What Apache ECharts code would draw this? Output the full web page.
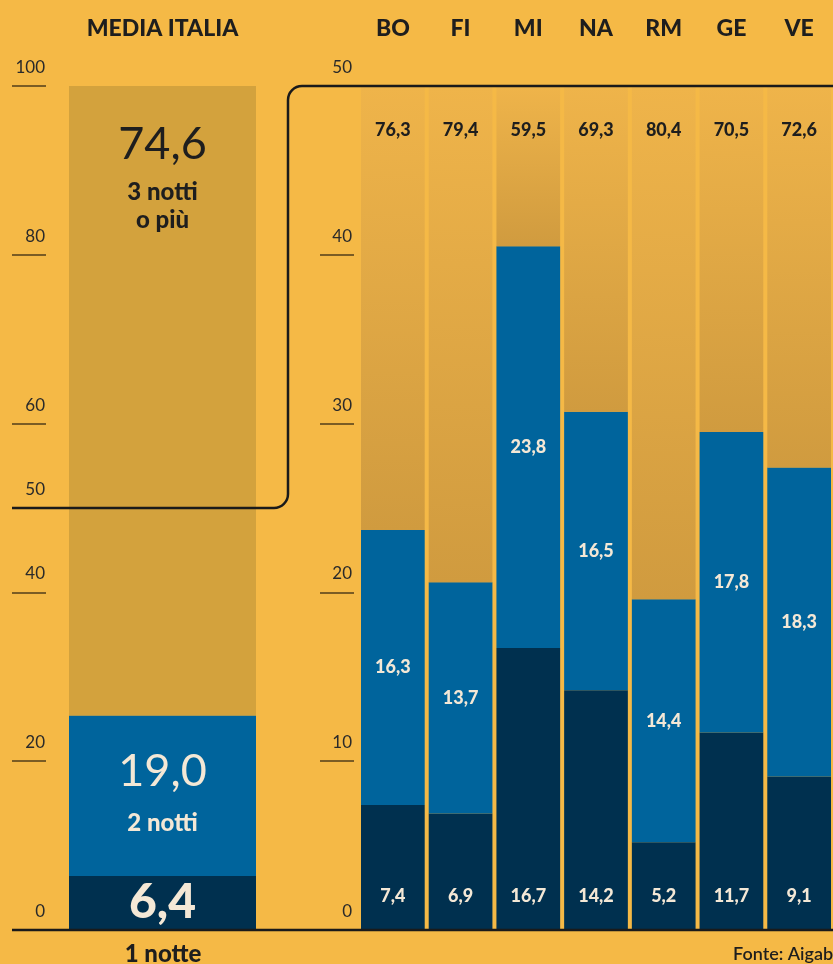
<!DOCTYPE html>
<html>
<head>
<meta charset="utf-8">
<script src="https://cdn.jsdelivr.net/npm/echarts@6/dist/echarts.min.js"></script>
<style>
html,body{margin:0;padding:0;background:#F5B946;}
#c{width:833px;height:964px;}
</style>
</head>
<body>
<div id="c"></div>
<script>
// ---- data ----
const cities = ['BO','FI','MI','NA','RM','GE','VE'];
const oneNight = [7.4, 6.9, 16.7, 14.2, 5.2, 11.7, 9.1];
const twoNights = [16.3, 13.7, 23.8, 16.5, 14.4, 17.8, 18.3];
const threePlus = [76.3, 79.4, 59.5, 69.3, 80.4, 70.5, 72.6];
const italiaCat = ['MEDIA ITALIA'];
const italiaOne = [6.4];
const italiaTwo = [19.0];
const italiaThree = [74.6];
const leftTicks = [0, 20, 40, 50, 60, 80, 100];
const rightTicks = [0, 10, 20, 30, 40, 50];

const fmt = v => v.toFixed(1).replace('.', ',');
const FONT = 'Lato';
const bg = '#F5B946';
const navy = '#00304F';
const blue = '#00649C';
const goldL = '#D3A23D';
const cream = '#F4E8D6';
const ink = '#1E1E1E';
const tickCol = '#7A5C24';

const chart = echarts.init(document.getElementById('c'));

const goldGrad = new echarts.graphic.LinearGradient(0, 0, 0, 1, [
  {offset: 0, color: '#EFB44A'},
  {offset: 1, color: '#D09B3F'}
]);

const yAxisCommon = {
  type: 'value',
  axisLine: {show: false},
  splitLine: {show: false},
  axisTick: {show: true, inside: false, length: 34, lineStyle: {color: tickCol, width: 2}},
  axisLabel: {
    color: '#2A2A2A', fontFamily: FONT, fontSize: 17,
    verticalAlign: 'bottom', padding: [0, 0, 10, 0], margin: 1
  }
};

const catLabel = {color: ink, fontFamily: FONT, fontWeight: 900, fontSize: 23, margin: 46};

chart.setOption({
  animation: false,
  backgroundColor: bg,
  grid: [
    {left: 69, right: 833 - 256, top: 86, bottom: 34},
    {left: 359, right: -9, top: 86, bottom: 34}
  ],
  xAxis: [
    {
      gridIndex: 0, type: 'category', data: italiaCat, position: 'top',
      axisLine: {show: false}, axisTick: {show: false}, axisLabel: catLabel
    },
    {
      gridIndex: 1, type: 'category', data: cities, position: 'top',
      axisLine: {show: false}, axisTick: {show: false}, axisLabel: catLabel
    }
  ],
  yAxis: [
    Object.assign({}, yAxisCommon, {
      gridIndex: 0, min: 0, max: 100, interval: 10, offset: 23,
      axisTick: Object.assign({}, yAxisCommon.axisTick, {customValues: leftTicks}),
      axisLabel: Object.assign({}, yAxisCommon.axisLabel, {customValues: leftTicks, margin: 1})
    }),
    Object.assign({}, yAxisCommon, {
      gridIndex: 1, min: 0, max: 50, interval: 10, offset: 5,
      axisTick: Object.assign({}, yAxisCommon.axisTick, {customValues: rightTicks}),
      axisLabel: Object.assign({}, yAxisCommon.axisLabel, {customValues: rightTicks, margin: 2})
    })
  ],
  series: [
    {
      type: 'bar', xAxisIndex: 0, yAxisIndex: 0, stack: 'it', data: italiaOne,
      barWidth: '100%', itemStyle: {color: navy},
      label: {show: true, position: 'inside', formatter: p => fmt(p.value),
        color: cream, fontFamily: FONT, fontWeight: 900, fontSize: 48}
    },
    {
      type: 'bar', xAxisIndex: 0, yAxisIndex: 0, stack: 'it', data: italiaTwo,
      barWidth: '100%', itemStyle: {color: blue},
      label: {show: true, position: 'insideTop', distance: 27,
        formatter: p => '{a|' + fmt(p.value) + '}\n{b|2 notti}',
        rich: {
          a: {color: cream, fontFamily: FONT, fontWeight: 'normal', fontSize: 45, lineHeight: 58},
          b: {color: cream, fontFamily: FONT, fontWeight: 900, fontSize: 24, lineHeight: 46}
        }}
    },
    {
      type: 'bar', xAxisIndex: 0, yAxisIndex: 0, stack: 'it', data: italiaThree,
      barWidth: '100%', itemStyle: {color: goldL},
      label: {show: true, position: 'insideTop', distance: 24,
        formatter: p => '{a|' + fmt(p.value) + '}\n{b|3 notti}\n{b|o più}',
        rich: {
          a: {color: ink, fontFamily: FONT, fontWeight: 'normal', fontSize: 45, lineHeight: 68},
          b: {color: ink, fontFamily: FONT, fontWeight: 900, fontSize: 24, lineHeight: 28}
        }}
    },
    {
      type: 'bar', xAxisIndex: 1, yAxisIndex: 1, stack: 'c', data: oneNight,
      barCategoryGap: 4, itemStyle: {color: navy},
      label: {show: true, position: 'insideBottom', distance: 25, formatter: p => fmt(p.value),
        color: cream, fontFamily: FONT, fontWeight: 900, fontSize: 18}
    },
    {
      type: 'bar', xAxisIndex: 1, yAxisIndex: 1, stack: 'c', data: twoNights,
      barCategoryGap: 4, itemStyle: {color: blue},
      label: {show: true, position: 'inside', formatter: p => fmt(p.value),
        color: cream, fontFamily: FONT, fontWeight: 900, fontSize: 18}
    },
    {
      type: 'bar', xAxisIndex: 1, yAxisIndex: 1, stack: 'c', data: threePlus, clip: true,
      barCategoryGap: 4, itemStyle: {color: goldGrad},
      label: {show: true, position: 'insideTop', distance: 35, formatter: p => fmt(p.value),
        color: ink, fontFamily: FONT, fontWeight: 900, fontSize: 18}
    }
  ]
});

// decorative lines, positioned from the axes
const yLeft50 = chart.convertToPixel({yAxisIndex: 0}, 50);
const yRight50 = chart.convertToPixel({yAxisIndex: 1}, 50);
const y0 = chart.convertToPixel({yAxisIndex: 0}, 0);
const cx = 288, r = 14;
const lineStyle = {fill: null, stroke: '#1A1A1A', lineWidth: 2.5};

chart.setOption({
  graphic: [
    {type: 'line', z: 100, shape: {x1: 12, y1: yLeft50, x2: cx - r, y2: yLeft50}, style: lineStyle},
    {type: 'arc', z: 100, shape: {cx: cx - r, cy: yLeft50 - r, r: r, startAngle: Math.PI / 2, endAngle: 0, clockwise: false}, style: lineStyle},
    {type: 'line', z: 100, shape: {x1: cx, y1: yLeft50 - r, x2: cx, y2: yRight50 + r}, style: lineStyle},
    {type: 'arc', z: 100, shape: {cx: cx + r, cy: yRight50 + r, r: r, startAngle: Math.PI, endAngle: Math.PI * 1.5, clockwise: true}, style: lineStyle},
    {type: 'line', z: 100, shape: {x1: cx + r, y1: yRight50, x2: 840, y2: yRight50}, style: lineStyle},
    {type: 'line', z: 100, shape: {x1: 12, y1: y0, x2: 840, y2: y0}, style: lineStyle},
    {type: 'text', z: 100, x: 163, y: y0 + 24,
      style: {text: '1 notte', fill: ink, font: '900 24px ' + FONT, textAlign: 'center', textVerticalAlign: 'middle'}},
    {type: 'text', z: 100, x: 733, y: y0 + 24,
      style: {text: 'Fonte: Aigab', fill: ink, font: '600 18px ' + FONT, textAlign: 'left', textVerticalAlign: 'middle'}}
  ]
});
</script>
</body>
</html>
